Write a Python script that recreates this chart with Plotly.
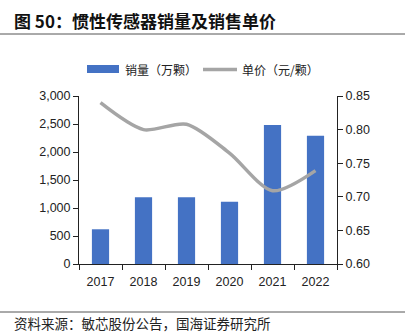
import plotly.graph_objects as go

years = ["2017", "2018", "2019", "2020", "2021", "2022"]
sales = [620, 1190, 1190, 1110, 2480, 2290]          # 销量（万颗）
unit_price = [0.840, 0.800, 0.808, 0.765, 0.709, 0.739]  # 单价（元/颗）

left_ticks = [0, 500, 1000, 1500, 2000, 2500, 3000]
right_ticks = [0.60, 0.65, 0.70, 0.75, 0.80, 0.85]

BLUE = "#4472C4"
GREY = "#A5A5A5"
FONT = "Liberation Sans, Arial, Noto Sans CJK SC, sans-serif"
CJK = "Noto Sans CJK SC, sans-serif"

W, H = 408, 336
ML, MR, MT, MB = 79, 71, 96, 72
PW, PH = W - ML - MR, H - MT - MB


def px(x):
    return (x - ML) / PW


def py(y):
    return (H - MB - y) / PH


fig = go.Figure()
fig.add_trace(go.Bar(
    x=years, y=sales, marker=dict(color=BLUE, line=dict(width=0)),
    width=0.4, name="销量（万颗）", showlegend=False,
))
fig.add_trace(go.Scatter(
    x=years, y=unit_price, yaxis="y2", mode="lines",
    line=dict(color=GREY, width=3.5, shape="spline", smoothing=0.8),
    name="单价（元/颗）", showlegend=False,
))

shapes = [
    # rule under the title
    dict(type="line", xref="paper", yref="paper", x0=px(0), x1=px(405),
         y0=py(34), y1=py(34), line=dict(color="#555555", width=1)),
    # rule above the source note
    dict(type="line", xref="paper", yref="paper", x0=px(0), x1=px(405),
         y0=py(312), y1=py(312), line=dict(color="#555555", width=1)),
    # legend keys
    dict(type="rect", xref="paper", yref="paper", x0=px(87), x1=px(119),
         y0=py(73), y1=py(65), fillcolor=BLUE, line=dict(width=0)),
    dict(type="line", xref="paper", yref="paper", x0=px(203), x1=px(237),
         y0=py(69.5), y1=py(69.5), line=dict(color=GREY, width=3.5)),
]

annotations = [
    dict(text="<b>图 50：惯性传感器销量及销售单价</b>", xref="paper", yref="paper",
         x=px(12), y=py(20), xanchor="left", yanchor="middle", showarrow=False,
         font=dict(family=CJK, size=17, color="#111111")),
    dict(text="资料来源：敏芯股份公告，国海证券研究所", xref="paper", yref="paper",
         x=px(12), y=py(323), xanchor="left", yanchor="middle", showarrow=False,
         font=dict(family=CJK, size=13.5, color="#222222")),
    dict(text="销量（万颗）", xref="paper", yref="paper",
         x=px(123), y=py(69.5), xanchor="left", yanchor="middle", showarrow=False,
         font=dict(family=CJK, size=12, color="#222222")),
    dict(text="单价（元/颗）", xref="paper", yref="paper",
         x=px(240), y=py(69.5), xanchor="left", yanchor="middle", showarrow=False,
         font=dict(family=CJK, size=12, color="#222222")),
]

fig.update_layout(
    width=W, height=H,
    margin=dict(l=ML, r=MR, t=MT, b=MB),
    paper_bgcolor="white", plot_bgcolor="white",
    font=dict(family=FONT, size=12, color="#222222"),
    xaxis=dict(
        type="category", showline=True, linecolor="#222222", linewidth=1,
        ticks="outside", ticklen=5, tickcolor="#222222", tickson="boundaries",
        ticklabelstandoff=6,
        showgrid=False, tickfont=dict(size=12.5),
    ),
    yaxis=dict(
        range=[0, 3000], tickvals=left_ticks, tickformat=",",
        showline=True, linecolor="#222222", linewidth=1,
        ticks="outside", ticklen=5, tickcolor="#222222",
        showgrid=False, zeroline=False, tickfont=dict(size=12.5),
    ),
    yaxis2=dict(
        range=[0.60, 0.85], tickvals=right_ticks, tickformat=".2f",
        overlaying="y", side="right",
        showline=True, linecolor="#222222", linewidth=1,
        ticks="outside", ticklen=5, tickcolor="#222222",
        showgrid=False, zeroline=False, tickfont=dict(size=12.5),
    ),
    shapes=shapes,
    annotations=annotations,
)

fig.write_html("out.html")
